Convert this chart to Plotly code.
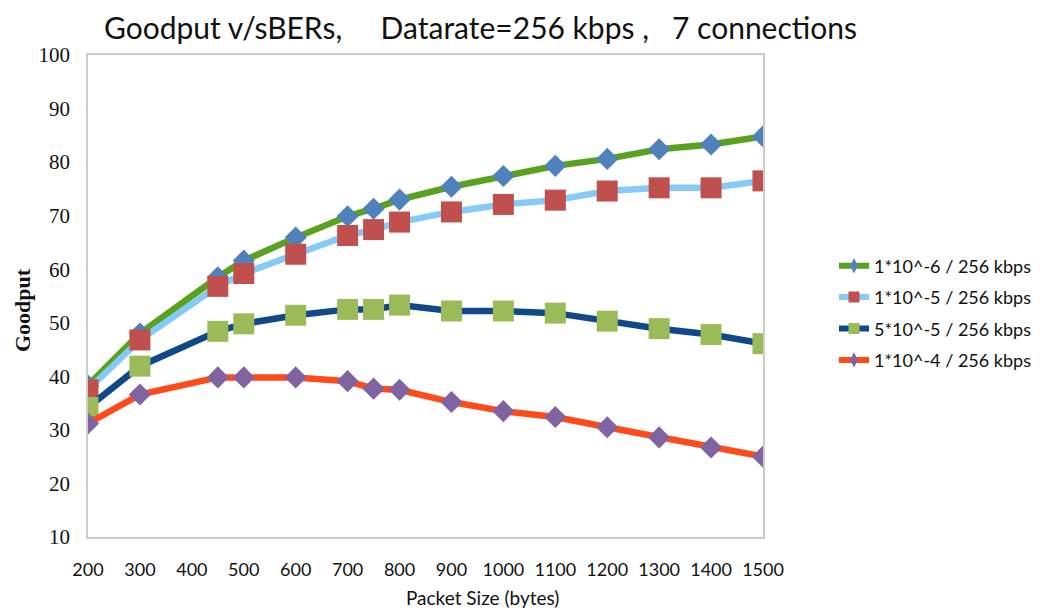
import plotly.graph_objects as go

# Packet sizes (bytes) and goodput per bit error rate at 256 kbps, 7 connections
packet_size = [200, 300, 450, 500, 600, 700, 750, 800, 900, 1000, 1100, 1200, 1300, 1400, 1500]

ber_1e6 = [38.3, 48.0, 58.5, 61.6, 65.9, 69.9, 71.3, 73.0, 75.4, 77.4, 79.3, 80.6, 82.4, 83.3, 84.8]
ber_1e5 = [37.5, 46.8, 56.8, 59.2, 62.8, 66.3, 67.4, 68.8, 70.7, 72.1, 72.9, 74.6, 75.2, 75.2, 76.5]
ber_5e5 = [34.2, 41.9, 48.4, 49.8, 51.4, 52.5, 52.5, 53.3, 52.2, 52.2, 51.8, 50.3, 48.9, 47.8, 46.1]
ber_1e4 = [31.2, 36.6, 39.8, 39.8, 39.8, 39.1, 37.7, 37.5, 35.2, 33.5, 32.4, 30.5, 28.6, 26.7, 25.0]

series_names = [
    "1*10^-6 / 256 kbps",
    "1*10^-5 / 256 kbps",
    "5*10^-5 / 256 kbps",
    "1*10^-4 / 256 kbps",
]

x_ticks = list(range(200, 1501, 100))
y_ticks = list(range(10, 101, 10))

W, H = 1043, 613
L, R, T, B = 88, 280, 55, 76

styles = [
    dict(line="#59A11F", marker="#4F81BD", symbol="diamond", size=17),
    dict(line="#86CBF8", marker="#C0504D", symbol="square", size=21),
    dict(line="#10498A", marker="#9BBB59", symbol="square", size=21),
    dict(line="#FF4A1A", marker="#8064A2", symbol="diamond", size=17),
]

fig = go.Figure()

for ys, name, st in zip([ber_1e6, ber_1e5, ber_5e5, ber_1e4], series_names, styles):
    fig.add_trace(go.Scatter(
        x=packet_size, y=ys, mode="lines+markers", name=name,
        line=dict(color=st["line"], width=6.5),
        marker=dict(symbol=st["symbol"], size=st["size"], color=st["marker"],
                    line=dict(width=0)),
        showlegend=False,
    ))

# Legend entries with smaller markers
for i, (name, st) in enumerate(zip(series_names, styles)):
    fig.add_trace(go.Scatter(
        x=[None], y=[None], mode="lines+markers", name=name,
        legendgroup=f"g{i}",
        line=dict(color=st["line"], width=6),
        marker=dict(symbol="diamond-tall" if st["symbol"] == "diamond" else "square",
                    size=11,
                    color=st["marker"], line=dict(width=0)),
    ))

sans = "Lato"
serif = "Liberation Serif"

fig.update_layout(
    width=W, height=H,
    margin=dict(l=L, r=R, t=T, b=B, pad=0, autoexpand=False),
    paper_bgcolor="white",
    plot_bgcolor="white",
    showlegend=True,
    legend=dict(
        x=(834 - L) / (W - L - R), y=(H - B - 313) / (H - T - B),
        xanchor="left", yanchor="middle",
        traceorder="grouped", tracegroupgap=5,
        font=dict(family=sans, size=18, color="#111111"),
        bgcolor="rgba(0,0,0,0)", borderwidth=0,
        itemwidth=30,
    ),
    xaxis=dict(
        range=[200, 1500], tickvals=x_ticks, ticktext=[str(v) for v in x_ticks],
        showgrid=False, zeroline=False,
        showline=True, mirror=True, linecolor="#CCCCCC", linewidth=1.5,
        ticks="", ticklabelstandoff=16,
        tickfont=dict(family=sans, size=18, color="#111111"),
    ),
    yaxis=dict(
        range=[10, 100], tickvals=y_ticks, ticktext=[str(v) for v in y_ticks],
        showgrid=False, zeroline=False,
        showline=True, mirror=True, linecolor="#CCCCCC", linewidth=1.5,
        ticks="", ticklabelstandoff=12,
        tickfont=dict(family=serif, size=21, color="#111111"),
    ),
    annotations=[
        dict(text="Goodput v/sBERs,\u00a0\u00a0\u00a0\u00a0\u00a0Datarate=256 kbps ,\u00a0\u00a0\u00a07 connections",
             xref="paper", yref="paper",
             x=(480 - L) / (W - L - R), y=(H - B - 27) / (H - T - B),
             xanchor="center", yanchor="middle", showarrow=False,
             font=dict(family=sans, size=30, color="#111111")),
        dict(text="Packet Size (bytes)",
             xref="paper", yref="paper",
             x=(483 - L) / (W - L - R), y=(H - B - 597) / (H - T - B),
             xanchor="center", yanchor="middle", showarrow=False,
             font=dict(family=sans, size=19, color="#111111")),
        dict(text="<b>Goodput</b>",
             xref="paper", yref="paper",
             x=(22 - L) / (W - L - R), y=(H - B - 310) / (H - T - B),
             xanchor="center", yanchor="middle", showarrow=False, textangle=-90,
             font=dict(family=serif, size=22, color="#111111")),
    ],
)

fig.write_html("out.html")
